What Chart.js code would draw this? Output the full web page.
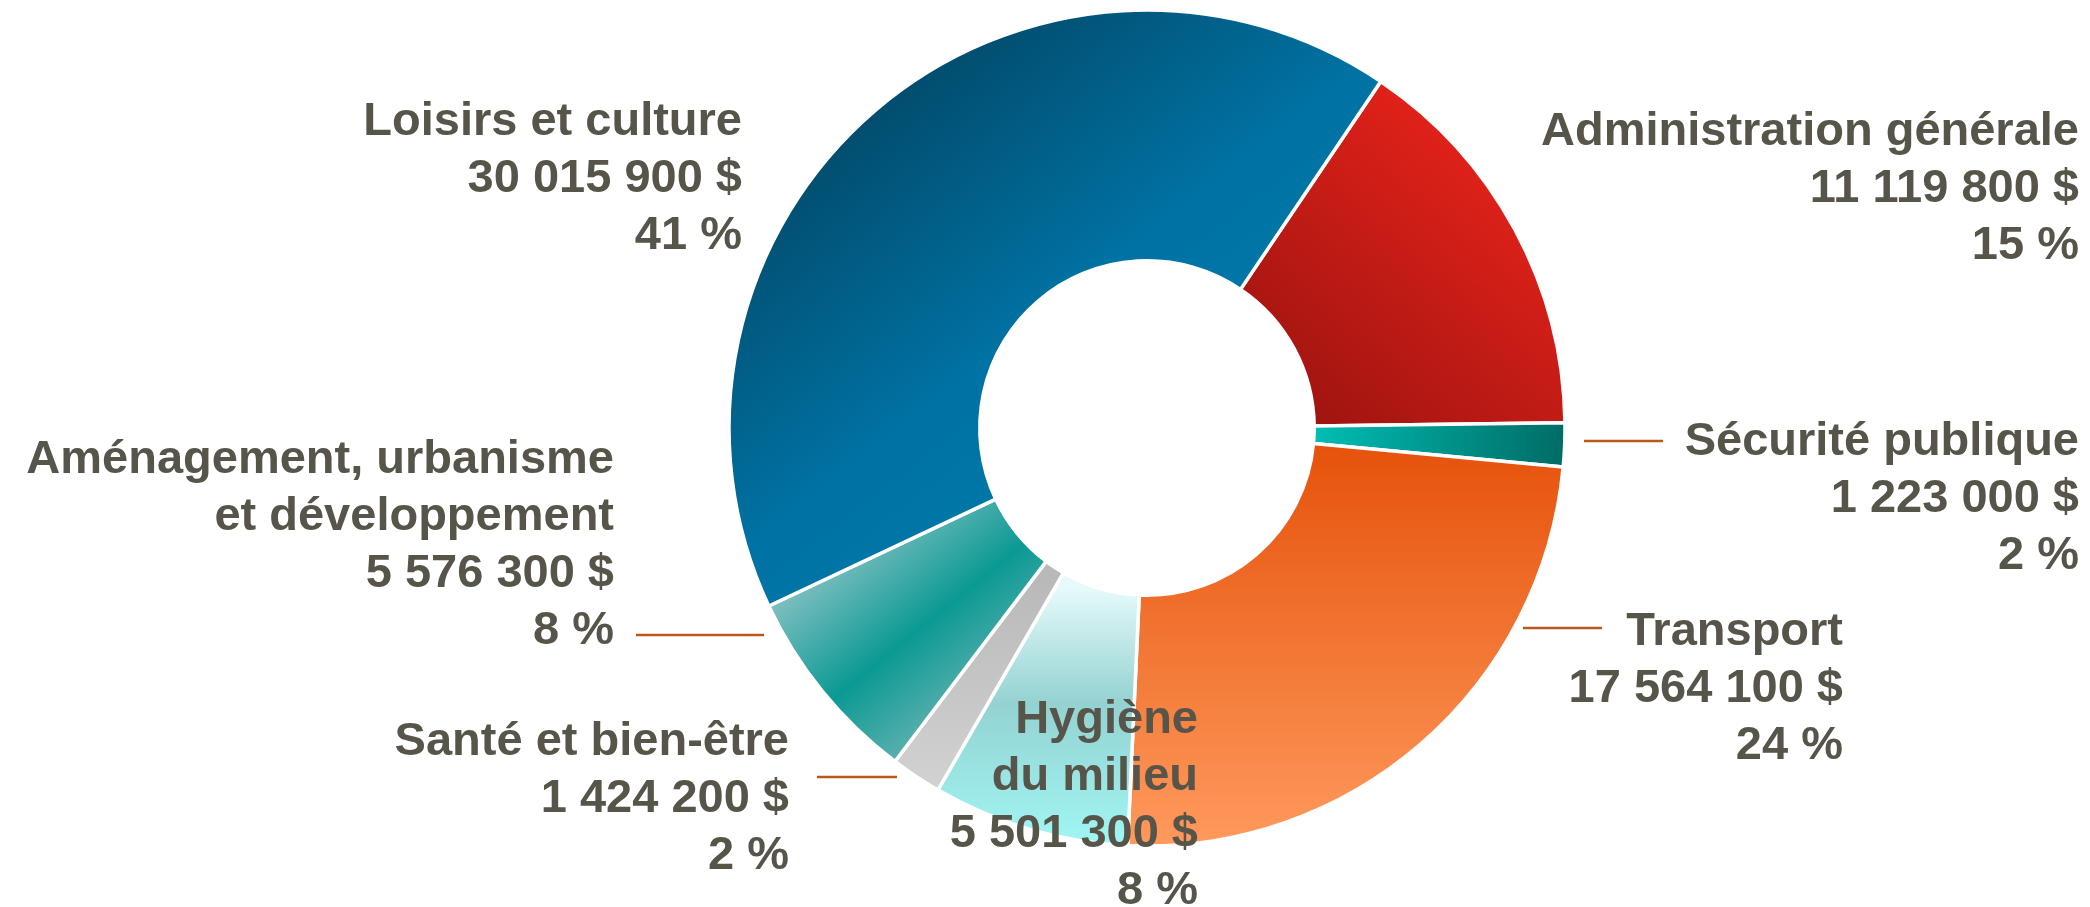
<!DOCTYPE html>
<html lang="fr">
<head>
<meta charset="utf-8">
<title>Dépenses par fonction</title>
<script src="https://cdn.jsdelivr.net/npm/chart.js@4.4.1/dist/chart.umd.min.js"></script>
<style>
  html, body { margin: 0; padding: 0; background: #fff; }
  #wrap { width: 2090px; height: 907px; }
</style>
</head>
<body>
<div id="wrap"><canvas id="budgetChart" width="2090" height="907"></canvas></div>
<script>
// data, clockwise from the top-right slice
const categories = [
  'Administration générale',
  'Sécurité publique',
  'Transport',
  'Hygiène\ndu milieu',
  'Santé et bien-être',
  'Aménagement, urbanisme\net développement',
  'Loisirs et culture'
];
const amounts = [11119800, 1223000, 17564100, 5501300, 1424200, 5576300, 30015900];

const total = amounts.reduce((a, b) => a + b, 0);

function money(v) {
  return String(v).replace(/\B(?=(\d{3})+(?!\d))/g, ' ') + ' $';
}
function pct(v) {
  return Math.round(v / total * 100) + ' %';
}

// label placement: right edge of text block, first baseline, optional leader line [x1, x2, y]
const labelSpots = [
  { x: 2079, y: 145 },
  { x: 2079, y: 455, leader: [1584, 1663, 441] },
  { x: 1843, y: 645, leader: [1523, 1602, 628] },
  { x: 1198, y: 733 },
  { x: 789, y: 755, leader: [817, 897, 777] },
  { x: 614, y: 473, leader: [636, 764, 635] },
  { x: 742, y: 135 }
];

// per-slice gradients, offsets from the doughnut centre
const sliceGradients = [
  { from: [380, -250], to: [150, 20], stops: [[0, '#e3221a'], [1, '#9a130f']] },
  { from: [170, 0], to: [416, 20], stops: [[0, '#00bdb3'], [1, '#006c66']] },
  { from: [0, 10], to: [0, 416], stops: [[0, '#e5510a'], [1, '#ff995c']] },
  { from: [0, 160], to: [0, 416], stops: [[0, '#e6fafa'], [0.45, '#94d2d2'], [1, '#a0f6f4']] },
  { from: [0, 150], to: [0, 416], stops: [[0, '#b9b9b9'], [1, '#d8d8d8']] },
  { from: [-288, 104], to: [-156, 267], stops: [[0, '#80c0c0'], [0.54, '#0b9994'], [1, '#62b2b0']] },
  { from: [-290, -330], to: [30, 80], stops: [[0, '#024a6a'], [0.55, '#0072a3'], [1, '#007bac']] }
];
const flatColors = ['#c91b14', '#00958e', '#f07030', '#a8e4e4', '#c8c8c8', '#2aa3a0', '#0068a0'];

function sliceFill(context) {
  const chart = context.chart;
  const area = chart.chartArea;
  if (!area) return flatColors[context.dataIndex];
  const cx = (area.left + area.right) / 2;
  const cy = (area.top + area.bottom) / 2;
  const spec = sliceGradients[context.dataIndex];
  const g = chart.ctx.createLinearGradient(cx + spec.from[0], cy + spec.from[1], cx + spec.to[0], cy + spec.to[1]);
  spec.stops.forEach(s => g.addColorStop(s[0], s[1]));
  return g;
}

const labelPlugin = {
  id: 'sliceLabels',
  afterDatasetsDraw(chart) {
    const ctx = chart.ctx;
    ctx.save();
    categories.forEach((name, i) => {
      const spot = labelSpots[i];
      if (spot.leader) {
        ctx.strokeStyle = '#b8581c';
        ctx.lineWidth = 2.5;
        ctx.beginPath();
        ctx.moveTo(spot.leader[0], spot.leader[2]);
        ctx.lineTo(spot.leader[1], spot.leader[2]);
        ctx.stroke();
      }
      const lines = name.split('\n').concat([money(amounts[i]), pct(amounts[i])]);
      ctx.font = 'bold 47px "Liberation Sans", Arial, sans-serif';
      ctx.fillStyle = '#575449';
      ctx.textAlign = 'right';
      ctx.textBaseline = 'alphabetic';
      lines.forEach((line, k) => {
        ctx.fillText(line, spot.x, spot.y + k * 57);
      });
    });
    ctx.restore();
  }
};

const budgetConfig = {
  type: 'doughnut',
  data: {
    labels: categories,
    datasets: [{
      data: amounts,
      backgroundColor: sliceFill,
      borderColor: '#ffffff',
      borderWidth: 3.5
    }]
  },
  options: {
    responsive: false,
    animation: false,
    devicePixelRatio: 1,
    rotation: 34,
    cutout: '40%',
    radius: 418,
    layout: {
      padding: { left: 731, right: 527, top: 10, bottom: 61 }
    },
    plugins: {
      legend: { display: false },
      tooltip: { enabled: false }
    }
  },
  plugins: [labelPlugin]
};

const budgetChart = new Chart(document.getElementById('budgetChart'), budgetConfig);
</script>
</body>
</html>
